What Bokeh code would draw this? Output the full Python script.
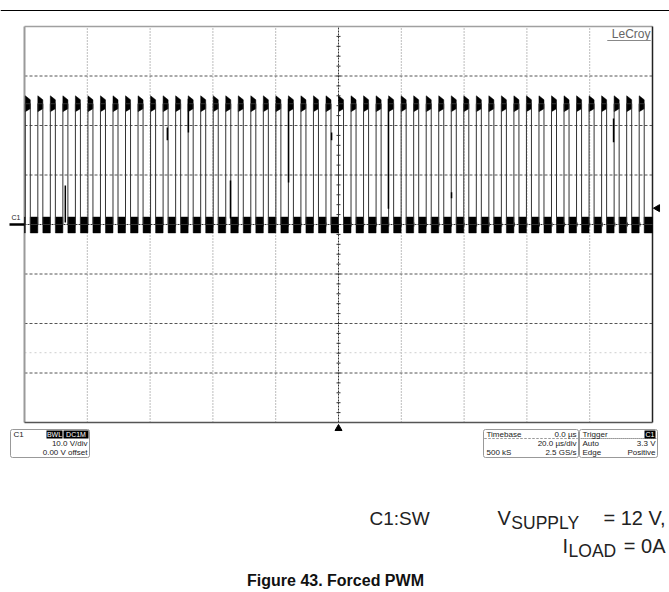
from bokeh.plotting import figure
from bokeh.models import Range1d, Label, BoxAnnotation
from bokeh.embed import file_html
from bokeh.resources import INLINE
import numpy as np

# ---------------- data ----------------
time_div_us = [-100, -80, -60, -40, -20, 0, 20, 40, 60, 80, 100]   # 20 us/div
volt_div_v = [-40, -30, -20, -10, 0, 10, 20, 30, 40]                 # 10 V/div
rise_us = [-99.75, -95.76, -91.77, -87.78, -83.79, -79.80, -75.81, -71.82, -67.83, -63.84,
           -59.85, -55.86, -51.87, -47.88, -43.89, -39.90, -35.91, -31.92, -27.93, -23.94,
           -19.95, -15.96, -11.97, -7.98, -3.99, 0.0, 3.99, 7.98, 11.97, 15.96,
           19.95, 23.94, 27.93, 31.92, 35.91, 39.90, 43.89, 47.88, 51.87, 55.86,
           59.85, 63.84, 67.83, 71.82, 75.81, 79.80, 83.79, 87.78, 91.77, 95.76]
high_time_us = 1.6
v_low = 0.0
v_high = 24.4
ring_high_top = [26.0, 25.2]   # overshoot envelope, left / right end of high phase
ring_high_bot = [22.8, 23.4]
ring_low = [-1.7, 1.5]         # ringing envelope during low phase
glitch_t_us = [-87.0, -54.5, -47.8, -34.4, -15.9, -2.2, 15.9, 36.0, 87.6]
glitch_v_from = [0.4, 17.0, 18.6, 1.2, 8.5, 17.0, 3.2, 5.3, 16.6]
glitch_v_to = [7.9, 19.6, 25.4, 8.9, 25.4, 18.6, 25.4, 6.5, 21.4]
ghost_v = -25.9
trigger_level_v = 3.3
trigger_time_us = 0.0

# ---------------- layout ----------------
W, H, M = 669, 592, 0
L, R, T, B = 24, 652, 26, 422          # scope grid in picture pixels
xpx = (R - L) / 200.0
ypx = (B - T) / 80.0
x_start = -100 - (L - M) / xpx
x_end = 100 + (W - (R - M)) / xpx
y_end = 40 + (T - M) / ypx
y_start = -40 - (H - (B - M)) / ypx

p = figure(width=W, height=H, x_range=Range1d(x_start, x_end), y_range=Range1d(y_start, y_end),
           min_border=0, toolbar_location=None, output_backend="svg",
           x_axis_type=None, y_axis_type=None, outline_line_color=None,
           background_fill_color="white", border_fill_color="white")

FONT = "Liberation Sans"


def sx(ix):
    return ix - M


def sy(iy):
    return H - (iy - M)


def lab(text, ix, iy, size, align="left", color="#222222", style="normal"):
    p.add_layout(Label(x=sx(ix), y=sy(iy), x_units="screen", y_units="screen", text=text,
                       text_font=FONT, text_font_size=f"{size}px", text_align=align,
                       text_baseline="middle", text_color=color, text_font_style=style))


def box(il, ir, it, ib, fill=None, line="#999999", lw=1.0, dash="solid", radius=0):
    p.add_layout(BoxAnnotation(left=sx(il), right=sx(ir), top=sy(it), bottom=sy(ib),
                               left_units="screen", right_units="screen",
                               top_units="screen", bottom_units="screen",
                               fill_color=fill if fill else "white", fill_alpha=1 if fill else 0,
                               line_color=line if line else "white", line_alpha=1 if line else 0,
                               line_width=lw, line_dash=dash, border_radius=radius))


# ---------------- grid ----------------
inner_t = [t for t in time_div_us[1:-1] if t != 0]
inner_v = [v for v in volt_div_v[1:-1] if v != 0]
p.segment(x0=inner_t, y0=[-40] * len(inner_t), x1=inner_t, y1=[40] * len(inner_t),
          line_color="#7a7a7a", line_width=1, line_dash="1 2")
p.segment(x0=[-100] * len(inner_v), y0=inner_v, x1=[100] * len(inner_v), y1=inner_v,
          line_color="#555555", line_width=1, line_dash="3 2")
# ghost trace
p.segment(x0=[-100], y0=[ghost_v], x1=[100], y1=[ghost_v], line_color="#cfcfcf", line_width=1, line_dash="2 3")
# centre cross with ticks
p.segment(x0=[0], y0=[-40], x1=[0], y1=[40], line_color="#333333", line_width=1, line_dash="2 1")
p.segment(x0=[-100], y0=[0], x1=[100], y1=[0], line_color="#333333", line_width=1, line_dash="2 1")
tv = np.arange(-40, 40.01, 2.0)
p.segment(x0=[-2 / xpx] * len(tv), y0=tv, x1=[2 / xpx] * len(tv), y1=tv, line_color="#333333", line_width=1)
tt = np.arange(-100, 100.01, 4.0)
p.segment(x0=tt, y0=[-2 / ypx] * len(tt), x1=tt, y1=[2 / ypx] * len(tt), line_color="#333333", line_width=1)
# borders
p.segment(x0=[-100], y0=[-40], x1=[-100], y1=[40], line_color="#9a9a9a", line_width=2)
p.segment(x0=[-100], y0=[40], x1=[100], y1=[40], line_color="#a0a0a0", line_width=1.5)
p.segment(x0=[100], y0=[-40], x1=[100], y1=[40], line_color="#222222", line_width=1.5)
p.segment(x0=[-100], y0=[-40], x1=[100], y1=[-40], line_color="#555555", line_width=1.5)

# ---------------- waveform ----------------
rise = np.array(rise_us)
fall = np.minimum(rise + high_time_us, 100)
xs, ys = [-100.0], [v_low]
for r, f in zip(rise, fall):
    xs += [r, r, f, f]
    ys += [v_low, v_high, v_high, v_low]
xs.append(100.0)
ys.append(v_low)

lefts = np.concatenate([[-100.0], fall])
rights = np.concatenate([rise, [100.0]])
keep = rights > lefts
p.quad(left=lefts[keep], right=rights[keep], bottom=ring_low[0], top=ring_low[1],
       fill_color="black", line_color="black", line_width=0.5)
p.patches(xs=[[r, f, f, r] for r, f in zip(rise, fall)],
          ys=[[ring_high_top[0], ring_high_top[1], ring_high_bot[1], ring_high_bot[0]] for _ in rise],
          fill_color="black", line_color="black", line_width=0.5)
p.line(xs, ys, line_color="#333333", line_width=1)
p.segment(x0=glitch_t_us, y0=glitch_v_from, x1=glitch_t_us, y1=glitch_v_to, line_color="black", line_width=1.5)

# markers: trigger level, trigger position, channel ground
p.scatter(x=[100 + 5 / xpx], y=[trigger_level_v], marker="triangle", angle=np.pi / 2, size=7,
          fill_color="black", line_color="black")
p.scatter(x=[trigger_time_us], y=[-40 - 6 / ypx], marker="triangle", size=7,
          fill_color="black", line_color="black")
p.segment(x0=[-100 - 15 / xpx], y0=[v_low], x1=[-100], y1=[v_low], line_color="black", line_width=2.5)
lab("C1", 11, 217, 7)

# ---------------- decorations ----------------
box(0, W, 9.5, 10.5, fill="black", line=None)           # top rule
lab("LeCroy", 650, 33, 12, align="right", color="#666666")
box(607, 650, 40, 40, line="#888888")

# channel box
box(10, 89, 429, 457, line="#999999", radius=2)
lab("C1", 13, 434, 8)
box(46, 62, 430, 438, fill="black", line=None)
lab("BWL", 54, 434, 7, align="center", color="white")
box(63, 88, 430, 438, fill="black", line=None)
lab("DC1M", 75.5, 434, 7, align="center", color="white")
lab("10.0 V/div", 87, 443, 8, align="right")
lab("0.00 V offset", 87, 452, 8, align="right")

# timebase box
box(483, 578, 429, 457, line="#999999", radius=2)
box(484, 577, 438, 438, line="#999999", dash="2 2")
lab("Timebase", 486, 434, 8)
lab("0.0 \u00b5s", 576, 434, 8, align="right")
lab("20.0 \u00b5s/div", 576, 443, 8, align="right")
lab("500 kS", 486, 452, 8)
lab("2.5 GS/s", 576, 452, 8, align="right")

# trigger box
box(579, 657, 429, 457, line="#999999", radius=2)
box(580, 656, 438, 438, line="#999999", dash="2 2")
lab("Trigger", 582, 434, 8)
box(644, 655, 430, 438, fill="black", line=None)
lab("C1", 649.5, 434, 7, align="center", color="white")
lab("Auto", 582, 443, 8)
lab("3.3 V", 655, 443, 8, align="right")
lab("Edge", 582, 452, 8)
lab("Positive", 655, 452, 8, align="right")

# ---------------- conditions text ----------------
CW = {'V': .667, 'S': .667, 'U': .722, 'P': .667, 'L': .556, 'Y': .667, ' ': .278, '=': .584,
      '1': .556, '2': .556, ',': .278, 'I': .278, 'O': .778, 'A': .667, 'D': .722, '0': .556}


def tw(s, size):
    return sum(CW.get(c, .6) for c in s) * size


MAIN, SUB = 20, 17.5
RIGHT = 665
lab("C1:SW", 369, 518, 19)
lab("V", 497, 517, MAIN)
lab("SUPPLY", 497 + tw("V", MAIN) + 0.5, 522, SUB)
lab("= 12 V,", RIGHT, 517, MAIN, align="right")
x_i = 562
lab("I", x_i, 545, MAIN)
lab("LOAD", x_i + tw("I", MAIN) + 0.5, 550, SUB)
lab("= 0A", RIGHT, 545, MAIN, align="right")

lab("Figure 43. Forced PWM", 335, 580, 16, align="center", color="#111111", style="bold")

open("out.html", "w").write(file_html(p, INLINE))
